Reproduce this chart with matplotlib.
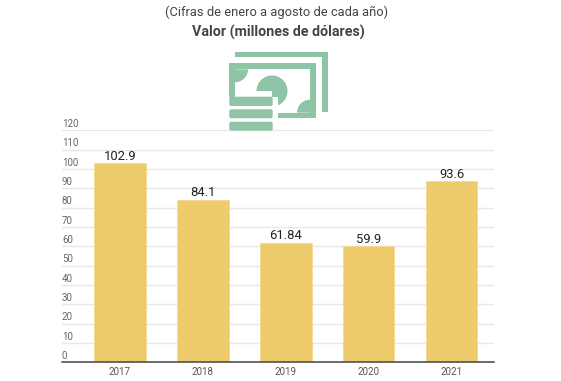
import matplotlib
matplotlib.use('Agg')
import matplotlib.pyplot as plt
from matplotlib.patches import Rectangle, Circle, Wedge, FancyBboxPatch

plt.rcParams['font.family'] = ['Roboto', 'DejaVu Sans']

years = ['2017', '2018', '2019', '2020', '2021']
values = [102.9, 84.1, 61.84, 59.9, 93.6]
labels = ['102.9', '84.1', '61.84', '59.9', '93.6']
yticks = list(range(0, 121, 10))
title_sub = '(Cifras de enero a agosto de cada año)'
title_main = 'Valor (millones de dólares)'

W, H = 561, 381
fig = plt.figure(figsize=(W / 100, H / 100), dpi=100, facecolor='white')

L, R, T, B = 62, 494, 130.3, 362.3
ax = fig.add_axes([L / W, 1 - B / H, (R - L) / W, (B - T) / H])
step = 82.9
x0 = 120
ax.set_xlim((L - x0) / step, (R - x0) / step)
ax.set_ylim(0, 120)
xs = list(range(len(years)))
ax.bar(xs, values, width=51.5 / step, color='#EECB6C', edgecolor='#F3D98F', linewidth=0.6, zorder=3)
for x, v, s in zip(xs, values, labels):
    ax.annotate(s, (x, v), xytext=(0, 2.6), textcoords='offset points', ha='center', va='baseline',
                fontsize=9.4, color='#222222', zorder=4)
ax.set_yticks(yticks)
ax.set_yticklabels([])
ax.tick_params(axis='y', length=0)
ax.grid(axis='y', color='#E8E8E8', linewidth=1.0, zorder=0)
ax.set_axisbelow(True)
for t in yticks:
    ax.annotate(str(t), (0, t), xycoords=('axes fraction', 'data'), xytext=(0, 2.3),
                textcoords='offset points', ha='left', va='baseline', fontsize=7.0, color='#666666')
ax.set_xticks(xs)
ax.set_xticklabels(years, fontsize=7.0, color='#555555')
ax.tick_params(axis='x', length=0, pad=3.5)
for s in ['top', 'left', 'right']:
    ax.spines[s].set_visible(False)
ax.spines['bottom'].set_color('#444444')
ax.spines['bottom'].set_linewidth(1.1)
ax.spines['bottom'].set_zorder(5)

fig.text(277 / W, 1 - 12 / H, title_sub, ha='center', va='center', fontsize=9.3, color='#444444')
fig.text(278 / W, 1 - 32.5 / H, title_main, ha='center', va='center', fontsize=10.3,
         fontweight='bold', color='#444444')

# banknote icon, in pixel coordinates
icon = fig.add_axes([0, 0, 1, 1], facecolor='none', zorder=6)
icon.set_xlim(0, W)
icon.set_ylim(H, 0)
icon.axis('off')
G = '#8FC4A7'
def rect(x0, y0, x1, y1, c=G):
    icon.add_patch(Rectangle((x0, y0), x1 - x0, y1 - y0, fc=c, ec='none'))
rect(235, 51.7, 328, 57.3)
rect(321.7, 51.7, 328, 112.3)
rect(229.3, 63.3, 315.7, 118.3)
rect(235, 69.3, 310, 112.7, 'white')
icon.add_patch(Wedge((235, 69.3), 13, 0, 90, fc=G, ec='none'))
icon.add_patch(Wedge((310, 112.7), 13, 180, 270, fc=G, ec='none'))
icon.add_patch(Circle((272, 91), 15.5, fc=G, ec='none'))
rect(250, 91, 272, 97, 'white')
rect(228, 96.7, 278, 119, 'white')
for y0, y1 in [(96.7, 106), (109.3, 118.3), (121.7, 130.7)]:
    icon.add_patch(FancyBboxPatch((231.3, y0 + 2), 39.4, y1 - y0 - 4, boxstyle='round,pad=2',
                                  fc=G, ec='none'))

fig.savefig('out.png', dpi=100)
